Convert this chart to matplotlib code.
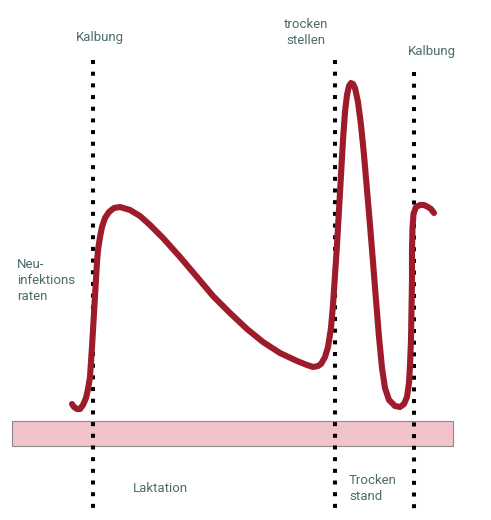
import matplotlib
matplotlib.use("Agg")
import matplotlib.pyplot as plt
from matplotlib.patches import Rectangle

# curve (pixel coordinates, y grows downward)
curve_x = [72, 74, 77, 80, 83, 86, 88, 90, 91, 92, 93, 94, 95, 96, 97, 98,
           100, 102, 105, 109, 114, 120, 130, 140, 150, 163, 180, 197, 213,
           230, 247, 263, 280, 297, 307, 313, 318, 321, 325, 328, 331, 333,
           335, 337, 339, 341, 343, 345, 347, 349, 351, 353, 355, 358, 361,
           364, 367, 370, 373, 376, 379, 382, 385, 389, 395, 400, 404, 407,
           409, 410, 411, 411.5, 412, 412, 412.5, 413.5, 416, 420, 424, 428,
           431, 434]
curve_y = [404, 407, 409, 409, 405, 398, 389, 377, 362, 347, 330, 313, 296,
           279, 262, 250, 237, 227, 218, 212, 208, 207, 210, 216, 225, 238,
           257, 277, 296, 313, 329, 342, 353, 361, 365, 367, 366, 364, 357,
           347, 328, 305, 275, 245, 210, 175, 140, 112, 95, 86, 83, 84, 88,
           102, 125, 155, 190, 225, 262, 300, 337, 368, 388, 400, 406, 407,
           404, 397, 383, 365, 340, 310, 280, 250, 228, 214, 207, 205, 205,
           207, 209, 213]

# dotted phase boundaries: x position, top, bottom
vline_x = [93, 335, 414]
vline_top = [60, 60, 72]
vline_bottom = [510, 510, 510]

labels = [
    ("Kalbung", 100, 38, "center"),
    ("trocken\nstellen", 306, 33, "center"),
    ("Kalbung", 432, 52, "center"),
    ("Neu-\ninfektions\nraten", 17, 281, "left"),
    ("Laktation", 160, 488, "center"),
    ("Trocken\nstand", 349, 489, "left"),
]

W, H = 491, 520
fig = plt.figure(figsize=(W / 100, H / 100), dpi=100)
ax = fig.add_axes([0, 0, 1, 1])
ax.set_xlim(0, W)
ax.set_ylim(H, 0)
ax.axis("off")

ax.add_patch(Rectangle((12, 421), 441, 25, facecolor="#f3c3cb",
                       edgecolor="#8a8a8a", linewidth=0.8, zorder=1))

for x, t, b in zip(vline_x, vline_top, vline_bottom):
    ax.plot([x, x], [t, b], color="black", linewidth=2.9,
            linestyle=(0, (1, 1.9)), dash_capstyle="butt", zorder=2)

ax.plot(curve_x, curve_y, color="#9e1b2b", linewidth=4.4,
        solid_joinstyle="round", solid_capstyle="round", zorder=3)

for txt, x, y, ha in labels:
    ax.text(x, y, txt, ha=ha, va="center", fontsize=9.5, color="#4d6b6b",
            family="Roboto", linespacing=1.3, zorder=4)

fig.savefig("out.png", dpi=100)
